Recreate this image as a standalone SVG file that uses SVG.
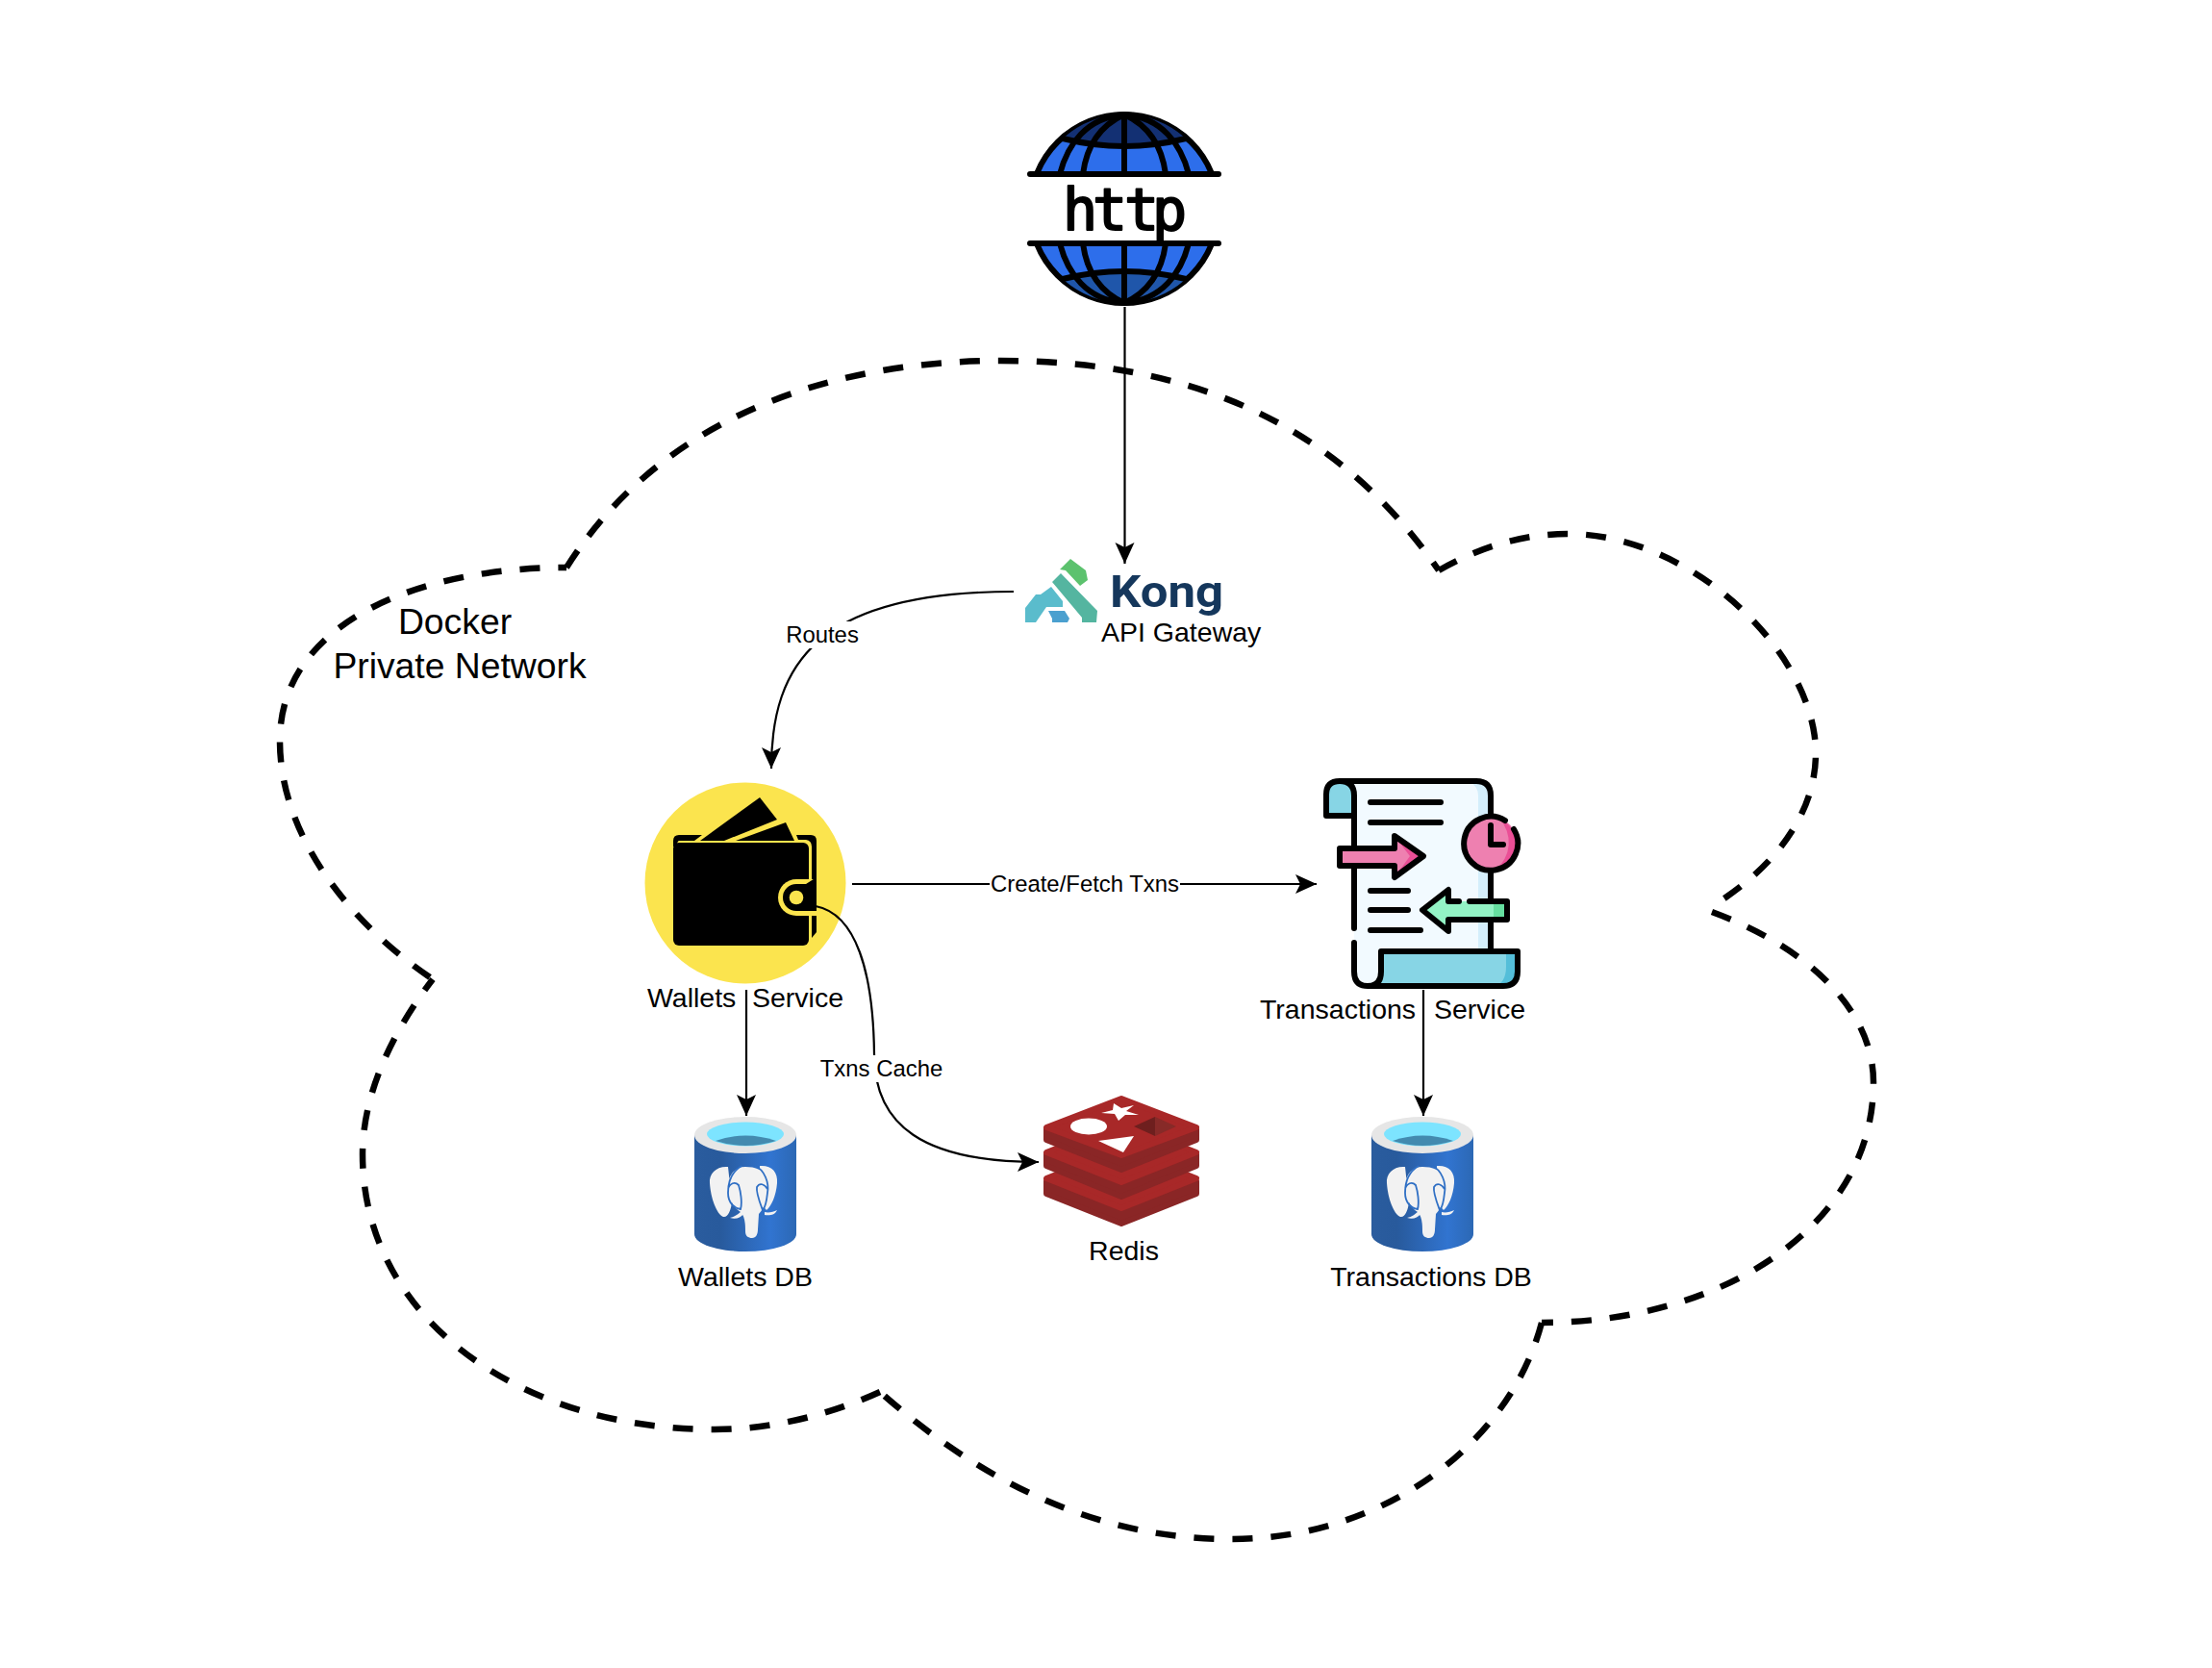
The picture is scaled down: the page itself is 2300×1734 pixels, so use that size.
<svg xmlns="http://www.w3.org/2000/svg" xmlns:xlink="http://www.w3.org/1999/xlink" width="2300" height="1734" viewBox="0 0 2300 1734">
<style>
text{font-family:"Liberation Sans",Arial,sans-serif;fill:#000}
.lbl{font-size:28.500px}
.edge{font-size:23.900px;text-anchor:middle}
.conn{fill:none;stroke:#000;stroke-width:2.2;marker-end:url(#arrow)}
.cloud{fill:none;stroke:#000;stroke-width:6.500;stroke-dasharray:21 19}
.k{fill:none;stroke:#000;stroke-width:6;stroke-linecap:round;stroke-linejoin:round}
.rd{stroke-linejoin:round;stroke-width:6}
.rs{fill:#A82828;stroke:#A82828}
.rk{fill:#8A2626;stroke:#8A2626}
.eleph{fill:#F2F2F2}
.el{fill:none;stroke:#2F6FC4;stroke-width:1.8}
</style>
<defs>
<marker id="arrow" markerUnits="userSpaceOnUse" markerWidth="26" markerHeight="24" refX="22" refY="10" orient="auto">
<path d="M0,0 L22,10 L0,20 L5,10 Z" fill="#000"/>
</marker>
<clipPath id="globeTop"><rect x="1060" y="110" width="220" height="71"/></clipPath>
<clipPath id="globeBot"><rect x="1060" y="253" width="220" height="71"/></clipPath>
<linearGradient id="cyl" x1="0" x2="1" y1="0" y2="0">
<stop offset="0" stop-color="#2A5C9E"/><stop offset="0.25" stop-color="#285A9C"/><stop offset="0.75" stop-color="#3174D0"/><stop offset="1" stop-color="#2C68B4"/>
</linearGradient>
<g id="pg">
<path d="M722,1180 L722,1283 A53,18 0 0 0 828,1283 L828,1180 Z" fill="url(#cyl)"/>
<ellipse cx="775" cy="1180" rx="53" ry="19" fill="#E6E6E6"/>
<ellipse cx="775" cy="1179" rx="40" ry="12.5" fill="#7DE4FF"/>
<path d="M744,1186 Q775,1175 807,1186 Q775,1196 744,1186 Z" fill="#438AAF"/>
<path class="eleph" d="M757,1213 C745,1212 737,1220 738,1230 C739,1245 745,1262 752,1265 C757,1266 760,1258 761,1250 Z"/>
<path class="eleph" d="M790,1212 C802,1211 809,1218 808,1230 C807,1243 802,1254 797,1258 L790,1250 Z"/>
<path class="eleph" d="M775,1213 C765,1213 758,1220 757,1232 C757,1245 762,1255 770,1260 C774,1264 775,1270 775,1280 C775,1285 778,1287 782,1287 C786,1287 788,1283 788,1278 L789,1262 C796,1255 800,1240 798,1225 C795,1216 785,1213 775,1213 Z"/>
<path class="eleph" d="M759,1266 C764,1265 768,1262 772,1258 L773,1262 C770,1266 765,1268 759,1266 Z"/>
<path class="eleph" d="M795,1260 C799,1261 804,1260 808,1258 C806,1263 800,1264 795,1263 Z"/>
<path class="el" d="M771,1212 C761,1218 757,1228 757,1240 C757,1250 763,1256 770,1257 C772,1250 770,1238 768,1232 C764,1228 759,1230 757,1236"/>
<path class="el" d="M785,1212 C795,1216 800,1230 798,1240 C797,1250 795,1256 793,1258 C790,1250 786,1240 787,1234 C790,1229 795,1231 798,1236"/>
</g>
</defs>

<g id="cloud">
<path class="cloud" d="M589,590 C690,430 870,375 1040,375 C1240,375 1390,440 1496,593"/>
<path class="cloud" d="M1496,593 C1545,565 1590,555 1630,555 C1760,555 1888,680 1888,783 C1888,850 1840,905 1782,941"/>
<path class="cloud" d="M1780,948 C1880,985 1948,1050 1948,1125 C1948,1275 1790,1375 1603,1375"/>
<path class="cloud" d="M1603,1375 C1570,1500 1440,1600 1280,1600 C1140,1600 1020,1540 915,1447"/>
<path class="cloud" d="M915,1447 C860,1472 800,1486 743,1486 C540,1486 377,1370 377,1200 C377,1135 410,1070 450,1018"/>
<path class="cloud" d="M447,1016 C365,960 291,870 291,770 C291,650 430,590 589,590"/>
<text x="473" y="659" font-size="37.300" text-anchor="middle">Docker</text>
<text x="478" y="705" font-size="37.300" text-anchor="middle">Private Network</text>
</g>

<g id="http">
<g clip-path="url(#globeTop)">
<circle cx="1169" cy="217" r="98" fill="#2D6EEB" stroke="#000" stroke-width="6"/>
</g>
<g clip-path="url(#globeBot)">
<circle cx="1169" cy="217" r="98" fill="#2D6EEB" stroke="#000" stroke-width="6"/>
</g>
<path d="M1169,119 A98,98 0 0 1 1232,143 Q1169,160 1106,143 A98,98 0 0 1 1169,119 Z" fill="#133073"/>
<path d="M1169,315 A98,98 0 0 0 1232,291 Q1169,274 1106,291 A98,98 0 0 0 1169,315 Z" fill="#1F56AA"/>
<path class="k" d="M1105,144 Q1169,160 1233,144 M1105,290 Q1169,274 1233,290"/>
<path class="k" d="M1169,119 V181 M1169,119 C1145,130 1130,150 1126,181 M1169,119 C1130,122 1110,150 1102,181 M1169,119 C1193,130 1208,150 1212,181 M1169,119 C1208,122 1228,150 1236,181"/>
<path class="k" d="M1169,315 V253 M1169,315 C1145,304 1130,284 1126,253 M1169,315 C1130,312 1110,284 1102,253 M1169,315 C1193,304 1208,284 1212,253 M1169,315 C1208,312 1228,284 1236,253"/>
<path class="k" d="M1071,181 H1267 M1071,253 H1267"/>
<text x="1105 1136 1169 1198" y="239" font-size="60" style="font-family:'DejaVu Sans Mono',monospace" stroke="#000" stroke-width="2" stroke-linejoin="round">http</text>
</g>

<g id="kong">
<polygon points="1102,592 1113,581 1129,593 1131,603 1123,609 1108,593" fill="#5CC26E"/>
<polygon points="1094,605 1103,596 1141,635 1140,647 1125,647 1125,642" fill="#54B5A0"/>
<polygon points="1066,632 1077,618 1082,618 1093,610 1105,625 1105,631 1088,631 1077,647 1066,647" fill="#5ABCCC"/>
<polygon points="1090,635 1107,635 1112,643 1110,647 1094,647 1094,643" fill="#4BA0CF"/>
<text x="1154" y="631" font-size="47" font-weight="700" textLength="118" lengthAdjust="spacingAndGlyphs" style="font-family:Roboto,sans-serif;fill:#15375C">Kong</text>
<text class="lbl" x="1145" y="667">API Gateway</text>
</g>

<g id="wallets-service">
<circle cx="775" cy="918" r="104.5" fill="#FBE44E"/>
<polygon points="728,874 790,829 808,852 753,874" fill="#000"/>
<polygon points="765,874 817,855 826,874" fill="#000"/>
<path d="M706,868 H730 L722,874 H706 Q704,874 704,880 H700 V874 Q700,868 706,868 Z" fill="#000"/>
<path d="M828,868 H843 Q849,868 849,874 V969 L844,975 V880 Q844,874 838,873 H830 Z" fill="#000"/>
<rect x="700" y="876" width="141" height="107" rx="6" fill="#000"/>
<path d="M849,914 H828 A19,19 0 0 0 828,952 H849 Z" fill="#FBE44E"/>
<path d="M849,912 L838,919 H828 A14,14 0 0 0 828,947 H849 Z" fill="#000"/>
<circle cx="828" cy="933" r="7.300" fill="#FBE44E"/>
<text class="lbl" x="673" y="1047">Wallets <tspan x="782">Service</tspan></text>
</g>

<g id="transactions-service">
<path d="M1393,812 H1535 Q1550,812 1550,827 V989 H1436 V1010 Q1436,1025 1422,1025 Q1408,1025 1408,1010 V827 Q1408,812 1393,812 Z" fill="#F2FAFF"/>
<path d="M1535,812 Q1550,812 1550,827 V989 H1537 V827 Q1537,818 1528,812 Z" fill="#D4EEFB"/>
<path d="M1393,812 Q1379,812 1379,826 V848 H1408 V826 Q1408,812 1393,812 Z" fill="#87D5E5"/>
<path d="M1436,989 H1578 V1010 Q1578,1025 1563,1025 H1422 Q1436,1025 1436,1010 Z" fill="#87D5E5"/>
<path d="M1566,989 H1578 V1010 Q1578,1025 1563,1025 H1556 Q1566,1020 1566,1005 Z" fill="#54BED9"/>
<path class="k" d="M1393,812 H1535 Q1550,812 1550,827 V848 M1550,905 V989 M1393,812 Q1379,812 1379,826 V848 H1408 M1393,812 Q1408,812 1408,827 V965 M1408,980 V1010 Q1408,1025 1422,1025 H1563 Q1578,1025 1578,1010 V989 H1436 V1010 Q1436,1025 1422,1025"/>
<path class="k" d="M1425,834 H1498 M1425,855 H1498 M1425,926 H1464 M1425,946 H1464 M1425,967 H1477"/>
<path d="M1393,882 H1450 V869 L1480,890 L1450,912 V900 H1393 Z" fill="#EE80B0"/>
<path d="M1450,869 L1480,890 L1450,912 L1466,890 Z" fill="#EA4F96"/>
<path class="k" d="M1393,882 H1450 V869 L1480,890 L1450,912 V900 H1393 Z"/>
<circle cx="1550" cy="877" r="28" fill="#EE80B0"/>
<path d="M1559,851 A28,28 0 0 1 1555,904 A36,36 0 0 0 1559,851 Z" fill="#EA4F96"/>
<path class="k" d="M1565,853 A28,28 0 1 0 1574,862 M1550,858 V878 H1563"/>
<path d="M1567,937 H1506 V925 L1479,946 L1506,968 V956 H1567 Z" fill="#93F3C5"/>
<rect x="1553" y="937" width="14" height="19" fill="#66DFA0"/>
<path class="k" d="M1528,937 H1567 V956 H1506 V968 L1479,946 L1506,925 V937 H1517"/>
<text class="lbl" x="1310" y="1059">Transactions <tspan x="1491">Service</tspan></text>
</g>

<g id="wallets-db">
<use href="#pg" xlink:href="#pg"/>
<text class="lbl" x="775" y="1337" text-anchor="middle">Wallets DB</text>
</g>

<g id="transactions-db">
<use href="#pg" xlink:href="#pg" x="704"/>
<text class="lbl" x="1488" y="1337" text-anchor="middle">Transactions DB</text>
</g>

<g id="redis">
<path class="rd rk" d="M1088,1228 V1241 L1166,1272 L1244,1241 V1228 Z"/>
<polygon class="rd rs" points="1088,1225 1166,1194 1244,1225 1166,1256"/>
<path class="rd rk" d="M1088,1200 V1212 L1166,1244 L1244,1212 V1200 Z"/>
<polygon class="rd rs" points="1088,1198 1166,1167 1244,1198 1166,1229"/>
<path class="rd rk" d="M1088,1174 V1185 L1166,1216 L1244,1185 V1174 Z"/>
<polygon class="rd rs" points="1088,1172 1166,1142 1244,1172 1166,1201"/>
<ellipse cx="1132" cy="1171" rx="19" ry="8.500" fill="#fff"/>
<polygon points="1145,1157 1157,1154 1158,1147 1166,1152 1179,1149 1171,1155 1184,1159 1170,1159 1163,1165 1159,1158" fill="#fff"/>
<polygon points="1142,1186 1179,1181 1168,1198" fill="#fff"/>
<polygon points="1179,1171 1201,1161 1201,1181" fill="#6E1F1E"/>
<polygon points="1201,1161 1223,1171 1201,1181" fill="#872A28"/>
<text class="lbl" x="1168.500" y="1310" text-anchor="middle">Redis</text>
</g>

<g id="connectors">
<path class="conn" d="M1169.500,319 V586"/>
<path class="conn" d="M1054,615 C850,615 802,690 802,799"/>
<path class="conn" d="M886,919 H1369"/>
<path class="conn" d="M848,942 C890,950 908,1010 909,1096 C909,1170 960,1208 1080,1208"/>
<path class="conn" d="M776,1029 V1160"/>
<path class="conn" d="M1480,1029 V1160"/>
<rect x="816" y="646" width="78" height="28" fill="#fff"/>
<text class="edge" x="855" y="668">Routes</text>
<rect x="1029" y="905" width="198" height="28" fill="#fff"/>
<text class="edge" x="1128" y="927">Create/Fetch Txns</text>
<rect x="852" y="1097" width="129" height="28" fill="#fff"/>
<text class="edge" x="916.500" y="1119">Txns Cache</text>
</g>
</svg>
